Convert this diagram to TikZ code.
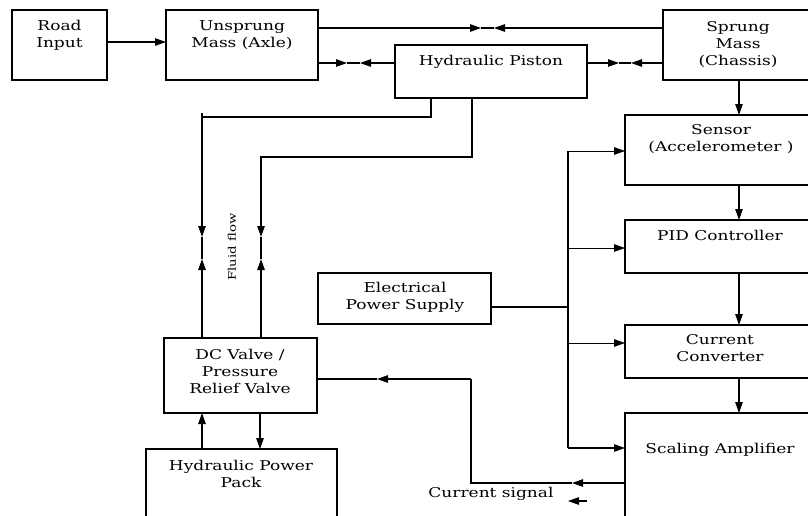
\documentclass[tikz,border=0pt]{standalone}
\usepackage{fontspec}
\setmainfont[FakeStretch=1.26]{DejaVu Serif}
\usetikzlibrary{arrows.meta}
\begin{document}
\begin{tikzpicture}[x=1pt,y=-1pt,
  box/.style={draw, line width=1.1pt, inner sep=0pt, outer sep=0pt, anchor=north west},
  lbl/.style={font=\fontsize{13.5}{17}\selectfont, align=center, inner sep=2pt},
  ln/.style={line width=1.1pt},
  arr/.style={line width=1.1pt, -{Triangle[length=11pt,width=7.5pt]}},
  tarr/.style={line width=0.8pt, -{Triangle[length=11pt,width=7.5pt]}}]
\useasboundingbox (0,0) rectangle (808,515);
\begin{scope}
\clip (0,0) rectangle (808,515);
% boxes
\node[box, minimum width=95pt, minimum height=70pt,
  label={[lbl,anchor=north,yshift=-8pt]north:Road\\Input}] (road) at (12,10) {};
\node[box, minimum width=152pt, minimum height=70pt,
  label={[lbl,anchor=north,yshift=-8pt]north:Unsprung\\Mass (Axle)}] (unsprung) at (166,10) {};
\node[box, minimum width=192pt, minimum height=53pt,
  label={[lbl,anchor=north,yshift=-8pt]north:Hydraulic Piston}] (piston) at (395,45) {};
\node[box, minimum width=160pt, minimum height=70pt] (sprung) at (663,10) {};
\node[lbl] (sprungT) at (738,45) {Sprung\\Mass\\(Chassis)};
\node[box, minimum width=200pt, minimum height=70pt] (sensor) at (625,115) {};
\node[lbl] (sensorT) at (721,139) {Sensor\\(Accelerometer )};
\node[box, minimum width=200pt, minimum height=53pt] (pid) at (625,220) {};
\node[lbl] (pidT) at (720,235) {PID Controller};
\node[box, minimum width=200pt, minimum height=53pt] (cc) at (625,325) {};
\node[lbl] (ccT) at (720,348) {Current\\Converter};
\node[box, minimum width=200pt, minimum height=120pt] (sa) at (625,413) {};
\node[lbl] (saT) at (720,450) {Scaling Amplifier};
\node[box, minimum width=173pt, minimum height=51pt] (eps) at (318,273) {};
\node[lbl] (epsT) at (405,297) {Electrical\\Power Supply};
\node[box, minimum width=153pt, minimum height=75pt] (dcv) at (164,338) {};
\node[lbl] (dcvT) at (240,371) {DC Valve /\\Pressure\\Relief Valve};
\node[box, minimum width=191pt, minimum height=80pt] (hpp) at (146,449) {};
\node[lbl] (hppT) at (241,474) {Hydraulic Power\\Pack};
% coordinates
\coordinate (m1) at (481,28); \coordinate (m2) at (494,28);
\coordinate (m3) at (347,63); \coordinate (m4) at (360,63);
\coordinate (m5) at (619,63); \coordinate (m6) at (631,63);
% road -> unsprung
\draw[arr] (road.east |- 0,42) -- (unsprung.west |- 0,42);
% unsprung <-> sprung (top)
\draw[arr] (unsprung.east |- 0,28) -- (m1);
\draw[arr] (sprung.west |- 0,28) -- (m2);
\draw[ln] (m1) -- (m2);
% unsprung <-> piston
\draw[arr] (unsprung.east |- 0,63) -- (m3);
\draw[arr] (piston.west |- 0,63) -- (m4);
\draw[ln] (m3) -- (m4);
% piston <-> sprung
\draw[arr] (piston.east |- 0,63) -- (m5);
\draw[arr] (sprung.west |- 0,63) -- (m6);
\draw[ln] (m5) -- (m6);
% right chain
\draw[arr] (sprung.south -| 739,0) -- (sensor.north -| 739,0);
\draw[arr] (sensor.south -| 739,0) -- (pid.north -| 739,0);
\draw[arr] (pid.south -| 739,0) -- (cc.north -| 739,0);
\draw[arr] (cc.south -| 739,0) -- (sa.north -| 739,0);
% power bus
\coordinate (bt) at (568,151); \coordinate (bb) at (568,448);
\coordinate (bj) at (568,307);
\draw[ln] (eps.east |- bj) -- (bj);
\draw[ln] (bt) -- (bb);
\draw[tarr] (bt) -- (sensor.west |- bt);
\draw[tarr] (568,248) -- (pid.west |- 0,248);
\draw[tarr] (568,343) -- (cc.west |- 0,343);
\draw[arr] (bb) -- (sa.west |- bb);
% current signal
\coordinate (c1) at (572,483); \coordinate (c2) at (471,483);
\coordinate (c3) at (471,379); \coordinate (c4) at (377,379);
\draw[arr] (sa.west |- c1) -- (c1);
\draw[ln] (c1) -- (c2) -- (c3);
\draw[arr] (c3) -- (c4);
\draw[ln] (c4) -- (dcv.east |- c4);
\coordinate (s1) at (587,501); \coordinate (s2) at (568,501);
\draw[arr] (s1) -- (s2);
\node[lbl] (cstext) at (491,494) {Current signal};
% power pack <-> valve
\draw[arr] (hpp.north -| 202,0) -- (dcv.south -| 202,0);
\draw[arr] (dcv.south -| 260,0) -- (hpp.north -| 260,0);
% fluid lines
\coordinate (fl1) at (202,237); \coordinate (fl2) at (202,259);
\coordinate (fr1) at (261,237); \coordinate (fr2) at (261,259);
\draw[arr] (piston.south -| 431,0) -- (431,117) -- (202,117) -- (fl1);
\draw[arr] (dcv.north -| 202,0) -- (fl2);
\draw[ln] (fl1) -- (fl2);
\draw[ln] (202,113) -- (202,117);
\draw[arr] (piston.south -| 472,0) -- (472,157) -- (261,157) -- (fr1);
\draw[arr] (dcv.north -| 261,0) -- (fr2);
\draw[ln] (fr1) -- (fr2);
\draw[line width=2.6pt] (472,105) -- (472,125);
\node[lbl, rotate=90, font=\fontsize{10.5}{13}\selectfont] (fluid) at (232,247) {Fluid flow};
\end{scope}
\end{tikzpicture}
\end{document}
